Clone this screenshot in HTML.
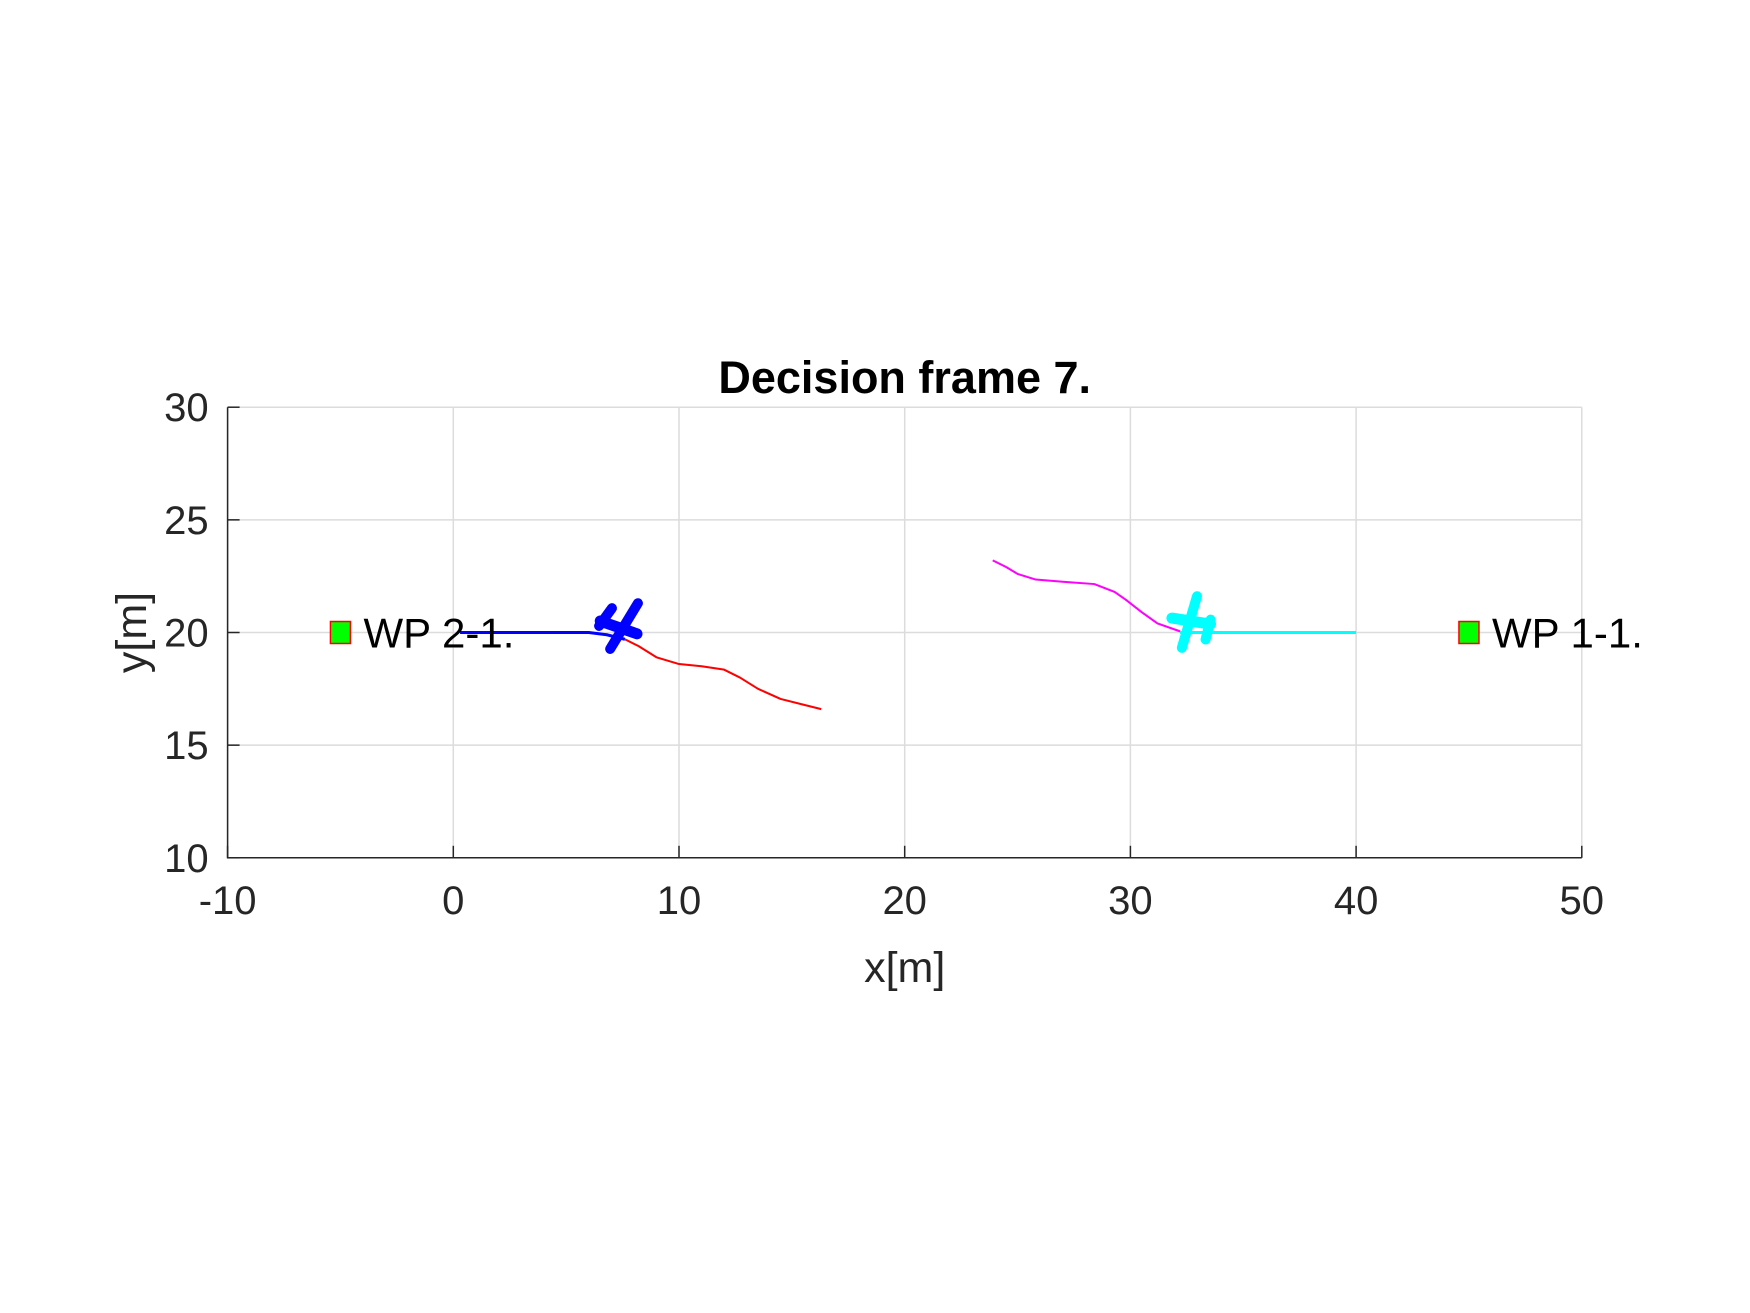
<!DOCTYPE html>
<html><head><meta charset="utf-8"><style>
html,body{margin:0;padding:0;background:#fff;}
svg{display:block;font-family:"Liberation Sans",Arial,sans-serif;}
</style></head><body>
<svg id="chart" width="1750" height="1313" viewBox="0 0 1750 1313"></svg>
<script>
const xTicks=[-10,0,10,20,30,40,50];
const yTicks=[10,15,20,25,30];
const bluePath=[[0.3,20],[3,20],[6,20],[6.8,19.9],[7.6,19.7]];
const redPath=[[7.6,19.7],[8.2,19.4],[9,18.9],[10,18.6],[11,18.5],[12,18.35],[12.7,18.0],[13.5,17.5],[14.5,17.05],[15.5,16.8],[16.3,16.6]];
const magentaPath=[[23.9,23.2],[24.5,22.9],[25,22.6],[25.8,22.35],[27,22.25],[28.4,22.15],[29.3,21.8],[29.8,21.45],[30.5,20.9],[31.2,20.4],[32.2,20.05]];
const cyanPath=[[32.2,20],[36,20],[40,20]];
const waypoints=[{x:-5,y:20,label:"WP 2-1."},{x:45,y:20,label:"WP 1-1."}];
const bluePlane=[[[6.95,19.27],[8.18,21.3]],[[6.51,20.51],[8.14,19.94]],[[6.46,20.29],[7.03,21.08]]];
const cyanPlane=[[[32.28,19.32],[32.95,21.61]],[[31.84,20.64],[33.55,20.37]],[[33.33,19.69],[33.55,20.57]]];

const L=227.6,R=1581.8,T=407.2,B=857.8,xmin=-10,xmax=50,ymin=10,ymax=30;
const sx=v=>L+(v-xmin)/(xmax-xmin)*(R-L);
const sy=v=>B-(v-ymin)/(ymax-ymin)*(B-T);
const svg=document.getElementById('chart');
const NS='http://www.w3.org/2000/svg';
function mk(tag,attrs,parent){const e=document.createElementNS(NS,tag);for(const k in attrs)e.setAttribute(k,attrs[k]);(parent||svg).appendChild(e);return e;}

xTicks.forEach(t=>{
  const g=mk('line',{x1:sx(t),x2:sx(t),y1:T,y2:B,stroke:'#dcdcdc','stroke-width':1.5});
  
  
});
yTicks.forEach(t=>{
  const g=mk('line',{x1:L,x2:R,y1:sy(t),y2:sy(t),stroke:'#dcdcdc','stroke-width':1.5});
  
  
});
const ax=mk('path',{d:`M${L},${T} L${L},${B} L${R},${B}`,fill:'none',stroke:'#262626','stroke-width':1.5});


xTicks.forEach(t=>{
  mk('line',{x1:sx(t),x2:sx(t),y1:B,y2:B-12,stroke:'#262626','stroke-width':1.5});
  const tx=mk('text',{x:sx(t),y:B+56,'text-anchor':'middle','font-size':40,fill:'#262626'});
  tx.textContent=t;
  
  
});
yTicks.forEach(t=>{
  mk('line',{x1:L,x2:L+12,y1:sy(t),y2:sy(t),stroke:'#262626','stroke-width':1.5});
  const tx=mk('text',{x:L-19,y:sy(t)+14,'text-anchor':'end','font-size':40,fill:'#262626'});
  tx.textContent=t;
  
  
});
const xl=mk('text',{x:(L+R)/2,y:982,'text-anchor':'middle','font-size':43,fill:'#262626'});
xl.textContent='x[m]';


const yl=mk('text',{x:0,y:0,'text-anchor':'middle','font-size':43,fill:'#262626',transform:`translate(146,${(T+B)/2}) rotate(-90)`});
yl.textContent='y[m]';


const ti=mk('text',{x:(L+R)/2,y:393,'text-anchor':'middle','font-size':45,'font-weight':'bold',fill:'#000'});
ti.textContent='Decision frame 7.';



function path(pts,color,w,name){
  const p=mk('polyline',{points:pts.map(q=>sx(q[0])+','+sy(q[1])).join(' '),fill:'none',stroke:color,'stroke-width':w,'stroke-linejoin':'round'});
  
  
}
path(redPath,'#ff0000',2,'red-planned-path');
path(magentaPath,'#ff00ff',2,'magenta-planned-path');
path(bluePath,'#0000ff',3,'blue-flown-path');
path(cyanPath,'#00ffff',3,'cyan-flown-path');

function plane(segs,color,name){
  const g=mk('g',{});
  
  
  segs.forEach((s,i)=>mk('line',{x1:sx(s[0][0]),y1:sy(s[0][1]),x2:sx(s[1][0]),y2:sy(s[1][1]),stroke:color,'stroke-width':i==1?11:10,'stroke-linecap':'round'},g));
}
plane(bluePlane,'#0000ff','blue-aircraft');
plane(cyanPlane,'#00ffff','cyan-aircraft');

waypoints.forEach(w=>{
  const r=mk('rect',{x:sx(w.x)-10,y:sy(w.y)-11,width:20,height:22,fill:'#00ff00',stroke:'#ff0000','stroke-width':1.5});
  
  
  const t=mk('text',{x:sx(w.x)+23,y:sy(w.y)+15,'font-size':42,fill:'#000'});
  t.textContent=w.label;
  
  
});
</script>
</body></html>
